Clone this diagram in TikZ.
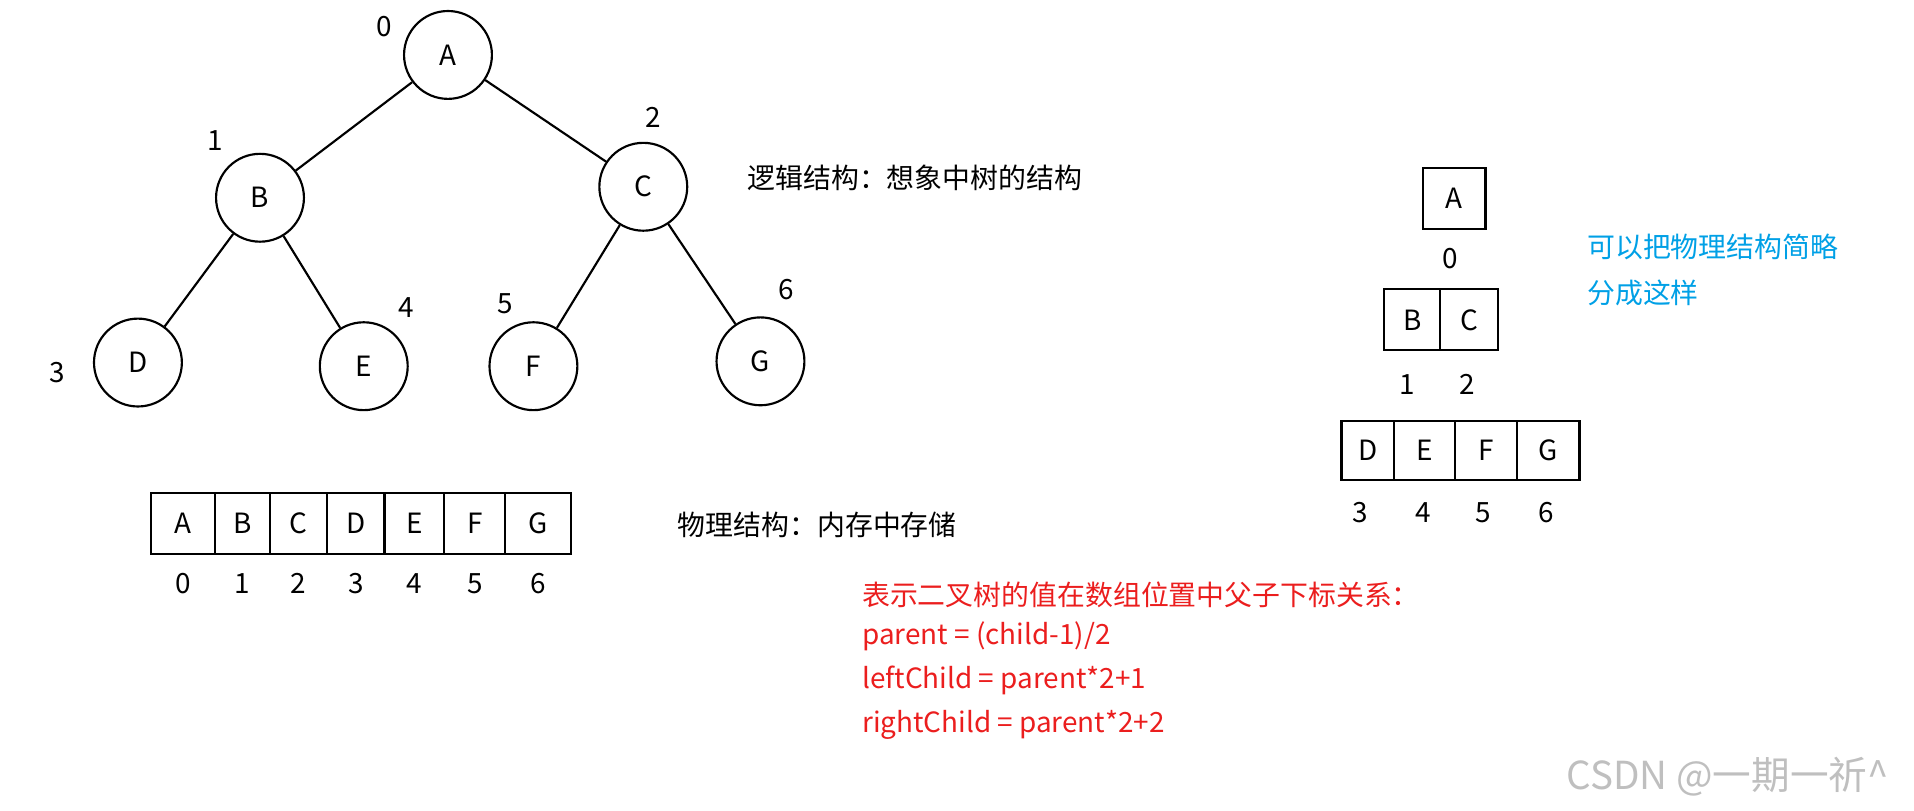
\documentclass[tikz,border=0pt]{standalone}
\usepackage{fontspec}
\setmainfont{Noto Sans CJK SC}
\definecolor{myblue}{RGB}{0,160,230}
\definecolor{myred}{RGB}{235,30,30}
\begin{document}
\begin{tikzpicture}[x=0.02cm,y=-0.02cm,
  tn/.style={circle,draw,line width=1pt,minimum size=1.44cm,inner sep=0pt,font=\fontsize{13}{15}\selectfont},
  lb/.style={font=\fontsize{13}{15}\selectfont,inner sep=0pt},
  cell/.style={draw,line width=1pt,minimum height=1.0cm,inner sep=0pt,font=\fontsize{13}{15}\selectfont},
  txt/.style={anchor=west,inner sep=0pt,font=\fontsize{13}{16}\selectfont}]
\useasboundingbox (0,0) rectangle (1568,664);
\node[tn] (A) at (367,45) {A};
\node[tn] (B) at (213,162) {B};
\node[tn] (C) at (527,153) {C};
\node[tn] (D) at (113,297) {D};
\node[tn] (E) at (298,300) {E};
\node[tn] (F) at (437,300) {F};
\node[tn] (G) at (623,296) {G};
\draw[line width=1pt] (A)--(B) (A)--(C) (B)--(D) (B)--(E) (C)--(F) (C)--(G);
\node[lb] (i0) at (315,22) {0};
\node[lb] (i1) at (176,115) {1};
\node[lb] (i2) at (535,96) {2};
\node[lb] (i3) at (47,305) {3};
\node[lb] (i4) at (333,252) {4};
\node[lb] (i5) at (414,249) {5};
\node[lb] (i6) at (644,237) {6};
\node[txt] (t1) at (612,146) {逻辑结构：想象中树的结构};
% array
\foreach \a/\b/\l/\n/\k in {124/176/A/aA/0,176/221/B/aB/1,221/268/C/aC/2,268/315/D/aD/3,315/364/E/aE/4,364/414/F/aF/5,414/468/G/aG/6}{
  \node[cell,minimum width={(\b-\a)*0.02cm}] (\n) at ({(\a+\b)/2},429) {\l};
  \node[lb] (x\n) at ({(\a+\b)/2},478) {\k};
}
\node[txt] (t2) at (555,430) {物理结构：内存中存储};
\node[txt,text=myred] (r1) at (706,487) {表示二叉树的值在数组位置中父子下标关系：};
\node[txt,text=myred] (r2) at (706,521) {parent = (child-1)/2};
\node[txt,text=myred] (r3) at (706,557) {leftChild = parent*2+1};
\node[txt,text=myred] (r4) at (706,594) {rightChild = parent*2+2};
% right
\node[cell,minimum width=1.02cm] (rA) at (1191.5,162.5) {A};
\node[lb] (r0) at (1188,212) {0};
\node[cell,minimum width=0.92cm] (rB) at (1157,262) {B};
\node[cell,minimum width=0.94cm] (rC) at (1203.5,262) {C};
\node[lb] (rr1) at (1153,315) {1};
\node[lb] (rr2) at (1202,315) {2};
\foreach \a/\b/\l/\n/\k/\kx in {1099/1142/D/rD/3/1114,1142/1192/E/rE/4/1166,1192/1243/F/rF/5/1215,1243/1294/G/rG/6/1267}{
  \node[cell,minimum width={(\b-\a)*0.02cm},minimum height=0.96cm] (\n) at ({(\a+\b)/2},369) {\l};
  \node[lb] (x\n) at (\kx,420) {\k};
}
\node[txt,text=myblue] (b1) at (1300,202) {可以把物理结构简略};
\node[txt,text=myblue] (b2) at (1300,240) {分成这样};
\node[txt,text=black!25,font=\fontsize{18}{20}\selectfont] (wm) at (1283,636) {CSDN @一期一祈\^{}};
\end{tikzpicture}
\end{document}
